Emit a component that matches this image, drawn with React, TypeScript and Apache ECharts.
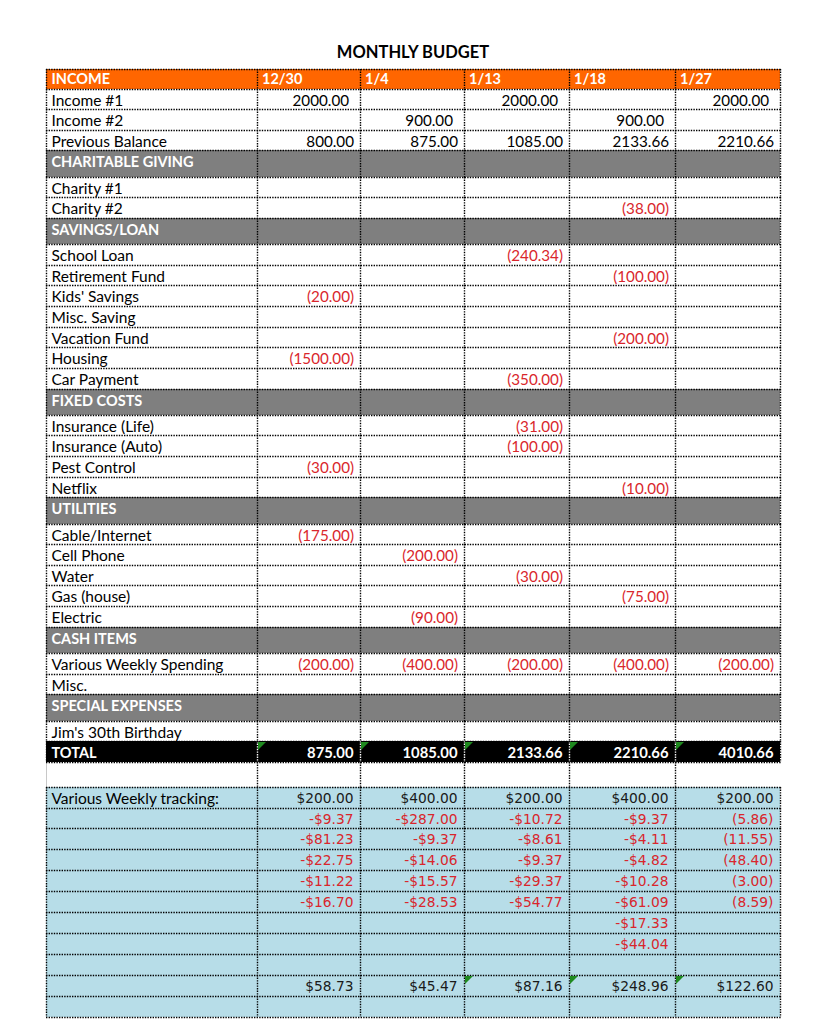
import { useEffect, useRef } from 'react';
import * as echarts from 'echarts';

const TITLE = 'MONTHLY BUDGET';
const headerLabel = 'INCOME';
const dates = ['12/30', '1/4', '1/13', '1/18', '1/27'];

const incomeLabels = ['Income #1', 'Income #2', 'Previous Balance'];
const incomeValues = [
  [2000, null, 2000, null, 2000],
  [null, 900, null, 900, null],
  [800, 875, 1085, 2133.66, 2210.66],
];
const charityLabels = ['Charity #1', 'Charity #2'];
const charityValues = [
  [null, null, null, null, null],
  [null, null, null, -38, null],
];
const savingsLabels = ['School Loan', 'Retirement Fund', "Kids' Savings", 'Misc. Saving', 'Vacation Fund', 'Housing', 'Car Payment'];
const savingsValues = [
  [null, null, -240.34, null, null],
  [null, null, null, -100, null],
  [-20, null, null, null, null],
  [null, null, null, null, null],
  [null, null, null, -200, null],
  [-1500, null, null, null, null],
  [null, null, -350, null, null],
];
const fixedLabels = ['Insurance (Life)', 'Insurance (Auto)', 'Pest Control', 'Netflix'];
const fixedValues = [
  [null, null, -31, null, null],
  [null, null, -100, null, null],
  [-30, null, null, null, null],
  [null, null, null, -10, null],
];
const utilityLabels = ['Cable/Internet', 'Cell Phone', 'Water', 'Gas (house)', 'Electric'];
const utilityValues = [
  [-175, null, null, null, null],
  [null, -200, null, null, null],
  [null, null, -30, null, null],
  [null, null, null, -75, null],
  [null, -90, null, null, null],
];
const cashLabels = ['Various Weekly Spending', 'Misc.'];
const cashValues = [
  [-200, -400, -200, -400, -200],
  [null, null, null, null, null],
];
const specialLabels = ["Jim's 30th Birthday"];
const specialValues = [[null, null, null, null, null]];
const totalLabel = 'TOTAL';
const totals = [875, 1085, 2133.66, 2210.66, 4010.66];

const trackingLabel = 'Various Weekly tracking:';
const weeklyBudget = [200, 400, 200, 400, 200];
const spent1230 = [-9.37, -81.23, -22.75, -11.22, -16.7];
const spent0104 = [-287.0, -9.37, -14.06, -15.57, -28.53];
const spent0113 = [-10.72, -8.61, -9.37, -29.37, -54.77];
const spent0118 = [-9.37, -4.11, -4.82, -10.28, -61.09, -17.33, -44.04];
const spent0127 = [-5.86, -11.55, -48.4, -3.0, -8.59];
const trackingFormats = ['dollar', 'dollar', 'dollar', 'dollar', 'paren'];
const remaining = [58.73, 45.47, 87.16, 248.96, 122.6];
const remainingFlagged = [false, false, true, true, true];

// ---- styling / layout ----
const ORANGE = '#ff6600';
const GRAY = '#7f7f7f';
const BLUE = '#b7dde8';
const RED = '#d9262c';
const GREEN = '#1f8a1f';
const FONT = 'Lato';
const NUM_FONT = 'DejaVu Sans';
const colEdges = [46, 257, 360, 464, 569, 675, 780];
const TOP = 69;
const ROW_H: Record<string, number> = { header: 19.5, item: 20.62, section: 26.3, total: 21, blank: 24.5, track: 20.9 };

const fmtPlain = (v: number) => (v < 0 ? `(${Math.abs(v).toFixed(2)})` : v.toFixed(2));
const fmtDollar = (v: number) => (v < 0 ? `-$${Math.abs(v).toFixed(2)}` : `$${v.toFixed(2)}`);
const fmtParen = (v: number) => (v < 0 ? `(${Math.abs(v).toFixed(2)})` : `$${v.toFixed(2)}`);

type Row = { kind: string; label?: string; values?: (number | null)[]; pad?: number; money?: (number | null)[]; flags?: boolean[] };

function buildRows(): Row[] {
  const rows: Row[] = [];
  rows.push({ kind: 'header', label: headerLabel });
  incomeLabels.forEach((l, i) => rows.push({ kind: 'item', label: l, values: incomeValues[i], pad: i < 2 ? 11 : 6 }));
  const sections: [string, string[], (number | null)[][]][] = [
    ['CHARITABLE GIVING', charityLabels, charityValues],
    ['SAVINGS/LOAN', savingsLabels, savingsValues],
    ['FIXED COSTS', fixedLabels, fixedValues],
    ['UTILITIES', utilityLabels, utilityValues],
    ['CASH ITEMS', cashLabels, cashValues],
    ['SPECIAL EXPENSES', specialLabels, specialValues],
  ];
  sections.forEach(([name, labels, vals]) => {
    rows.push({ kind: 'section', label: name });
    labels.forEach((l, i) => rows.push({ kind: 'item', label: l, values: vals[i], pad: 6 }));
  });
  rows.push({ kind: 'total', label: totalLabel, values: totals });
  rows.push({ kind: 'blank' });
  rows.push({ kind: 'track', label: trackingLabel, money: weeklyBudget });
  const spentCols = [spent1230, spent0104, spent0113, spent0118, spent0127];
  for (let k = 0; k < 7; k++) rows.push({ kind: 'track', money: spentCols.map((c) => (c[k] === undefined ? null : c[k])) });
  rows.push({ kind: 'track' });
  rows.push({ kind: 'track', money: remaining, flags: remainingFlagged });
  rows.push({ kind: 'track' });
  return rows;
}

function buildOption() {
  const rows = buildRows();
  const edges: number[] = [TOP];
  rows.forEach((r) => edges.push(edges[edges.length - 1] + ROW_H[r.kind]));
  const re = edges.map((e) => Math.round(e));
  const L = colEdges[0];
  const R = colEdges[colEdges.length - 1];

  const fills: { box: number[]; color: string }[] = [];
  const lines: { pts: number[]; color: string; dash: number[] | null }[] = [];
  const texts: any[] = [];
  const overlays: any[] = [];

  rows.forEach((r, i) => {
    const y0 = re[i];
    const y1 = re[i + 1];
    const bg = r.kind === 'header' ? ORANGE : r.kind === 'section' ? GRAY : r.kind === 'total' ? '#000' : r.kind === 'track' ? BLUE : null;
    if (bg) fills.push({ box: [L, y0, R, y1], color: bg });
    const ty = r.kind === 'header' ? y0 + 9.5 : r.kind === 'track' ? y0 + 10.8 : y0 + 11.2;
    const white = r.kind === 'header' || r.kind === 'section' || r.kind === 'total';
    if (r.label) {
      texts.push({ x: L + 5.5, y: ty, text: r.label, color: white ? '#fff' : '#000', font: FONT, size: white ? 14.5 : 15.5, weight: white ? 'bold' : 'normal', align: 'left' });
    }
    if (r.kind === 'header') {
      dates.forEach((d, c) => texts.push({ x: colEdges[c + 1] + 5, y: ty, text: d, color: '#fff', font: FONT, size: 14.5, weight: 'bold', align: 'left' }));
    }
    if (r.values) {
      r.values.forEach((v, c) => {
        if (v === null) return;
        const isTotal = r.kind === 'total';
        texts.push({
          x: colEdges[c + 2] - (r.pad || 6.5), y: ty, text: fmtPlain(v),
          color: isTotal ? '#fff' : v < 0 ? RED : '#000', font: FONT, size: isTotal ? 14.8 : 15.2,
          weight: isTotal ? 'bold' : 'normal', align: 'right',
        });
        if (isTotal) overlays.push({ type: 'tri', x: colEdges[c + 1] + 1, y: y0 + 1 });
      });
    }
    if (r.money) {
      r.money.forEach((v, c) => {
        if (v === null) return;
        const f = trackingFormats[c] === 'paren' ? fmtParen : fmtDollar;
        texts.push({ x: colEdges[c + 2] - 6.5, y: ty + 0.5, text: f(v), color: v < 0 ? RED : '#1a1a1a', font: NUM_FONT, size: 13.8, weight: 'normal', align: 'right' });
        if (r.flags && r.flags[c]) overlays.push({ type: 'tri', x: colEdges[c + 1] + 1, y: y0 + 1 });
      });
    }
    // vertical borders for this row
    colEdges.forEach((x, c) => {
      const outer = c === 0 || c === colEdges.length - 1;
      if (r.kind === 'blank' && outer) {
        if (c === 0) lines.push({ pts: [x + 0.5, y0, x + 0.5, y1], color: '#c8c8c8', dash: null });
        return;
      }
      lines.push({ pts: [x + 0.5, y0, x + 0.5, y1], color: r.kind === 'total' && !outer ? '#ffffff' : '#000', dash: [1.4, 1.2] });
    });
  });
  // horizontal borders
  re.forEach((y) => lines.push({ pts: [L, y + 0.5, R + 1, y + 0.5], color: '#000', dash: [1.4, 1.2] }));

  // selection around TOTAL label cell
  const ti = rows.findIndex((r) => r.kind === 'total');
  overlays.push({ type: 'sel', box: [L, re[ti], colEdges[1], re[ti + 1]] });

  const base = { type: 'custom', coordinateSystem: 'cartesian2d', clip: false, silent: true };

  return {
    animation: false,
    backgroundColor: '#ffffff',
    title: {
      text: TITLE, left: 'center', top: 38,
      textStyle: { fontFamily: FONT, fontWeight: 'bold', fontSize: 16.5, color: '#000' },
    },
    grid: { left: 0, right: 0, top: 0, bottom: 0 },
    xAxis: { type: 'value', min: 0, max: 826, show: false },
    yAxis: { type: 'value', min: 0, max: 1024, inverse: true, show: false },
    series: [
      {
        ...base, z: 1,
        data: fills.map((f) => f.box),
        renderItem: (p: any, api: any) => {
          const a = api.coord([api.value(0), api.value(1)]);
          const b = api.coord([api.value(2), api.value(3)]);
          return { type: 'rect', shape: { x: a[0], y: a[1], width: b[0] - a[0], height: b[1] - a[1] }, style: { fill: fills[p.dataIndex].color } };
        },
      },
      {
        ...base, z: 2,
        data: lines.map((l) => l.pts),
        renderItem: (p: any, api: any) => {
          const l = lines[p.dataIndex];
          const a = api.coord([api.value(0), api.value(1)]);
          const b = api.coord([api.value(2), api.value(3)]);
          return { type: 'line', shape: { x1: a[0], y1: a[1], x2: b[0], y2: b[1] }, style: { stroke: l.color, lineWidth: l.dash ? 1.4 : 1, lineDash: l.dash || undefined } };
        },
      },
      {
        ...base, z: 3,
        data: texts.map((t) => [t.x, t.y]),
        renderItem: (p: any, api: any) => {
          const t = texts[p.dataIndex];
          const a = api.coord([api.value(0), api.value(1)]);
          return {
            type: 'text',
            style: { text: t.text, x: a[0], y: a[1], fill: t.color, fontFamily: t.font, fontSize: t.size, fontWeight: t.weight, align: t.align, verticalAlign: 'middle' },
          };
        },
      },
      {
        ...base, z: 4,
        data: overlays.map((o) => (o.type === 'tri' ? [o.x, o.y] : [o.box[0], o.box[1], o.box[2], o.box[3]])),
        renderItem: (p: any, api: any) => {
          const o = overlays[p.dataIndex];
          if (o.type === 'tri') {
            const a = api.coord([api.value(0), api.value(1)]);
            return { type: 'polygon', shape: { points: [[a[0], a[1]], [a[0] + 8, a[1]], [a[0], a[1] + 8]] }, style: { fill: GREEN } };
          }
          const a = api.coord([api.value(0), api.value(1)]);
          const b = api.coord([api.value(2), api.value(3)]);
          return {
            type: 'group',
            children: [
              { type: 'rect', shape: { x: a[0] - 0.5, y: a[1] - 0.5, width: b[0] - a[0] + 1, height: b[1] - a[1] + 1 }, style: { fill: 'none', stroke: '#1f5fc4', lineWidth: 2.8 } },
              { type: 'rect', shape: { x: b[0] - 6, y: b[1] - 5, width: 10, height: 10 }, style: { fill: '#2f6fd0', stroke: '#ffffff', lineWidth: 1 } },
            ],
          };
        },
      },
    ],
  };
}

export default function App() {
  const ref = useRef<HTMLDivElement>(null);
  useEffect(() => {
    const chart = echarts.init(ref.current as HTMLDivElement, null, { renderer: 'svg' });
    chart.setOption(buildOption() as any);
    return () => chart.dispose();
  }, []);
  return <div ref={ref} style={{ position: 'fixed', left: 0, top: 0, width: 826, height: 1024, background: '#fff' }} />;
}
